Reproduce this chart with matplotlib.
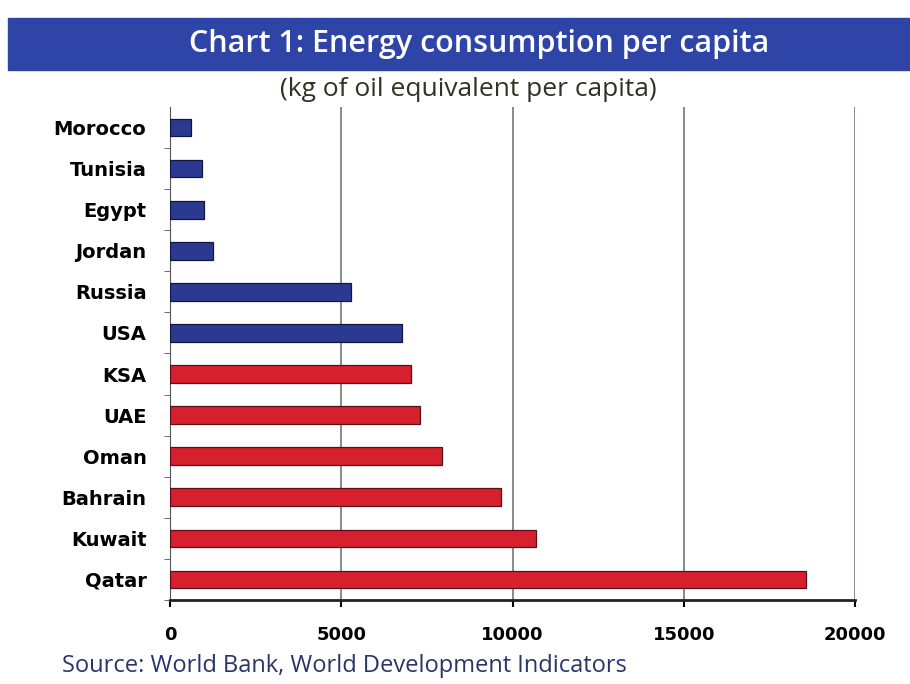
import matplotlib
matplotlib.use("Agg")
import matplotlib.pyplot as plt
from matplotlib.patches import Rectangle
import numpy as np

# data (kg of oil equivalent per capita)
COUNTRIES = ["Morocco", "Tunisia", "Egypt", "Jordan", "Russia", "USA",
             "KSA", "UAE", "Oman", "Bahrain", "Kuwait", "Qatar"]
VALUES = [600, 920, 990, 1250, 5290, 6780, 7040, 7300, 7950, 9650, 10690, 18560]
GCC = ["KSA", "UAE", "Oman", "Bahrain", "Kuwait", "Qatar"]
XTICKS = [0, 5000, 10000, 15000, 20000]

BLUE = "#2b3990"
RED = "#d7202e"
FONTS = ["Liberation Sans Narrow", "Open Sans", "DejaVu Sans"]

fig = plt.figure(figsize=(9.1, 6.84), dpi=100)
fig.patch.set_facecolor("white")

# title band
fig.patches.append(Rectangle((8 / 910, 1 - 70 / 684), 1, 52 / 684,
                             transform=fig.transFigure, color="#2e44a6", zorder=0))
fig.text(0.526, 1 - 44 / 684, "Chart 1: Energy consumption per capita",
         ha="center", va="center", color="white", fontsize=22, fontweight="semibold",
         family=FONTS)
fig.text(0.515, 1 - 89 / 684, "(kg of oil equivalent per capita)",
         ha="center", va="center", color="#2f3324", fontsize=19, family=FONTS)

ax = fig.add_axes([170 / 910, 1 - 600 / 684, 685 / 910, 493 / 684])
y = np.arange(len(COUNTRIES))
colors = [RED if c in GCC else BLUE for c in COUNTRIES]
edges = ["#5a0f1a" if c in GCC else "#141640" for c in COUNTRIES]
ax.barh(y, VALUES, height=0.43, color=colors, edgecolor=edges, linewidth=0.9, zorder=3)

ax.set_xlim(0, 20000)
ax.set_ylim(len(COUNTRIES) - 0.55, -0.5)
ax.set_xticks(XTICKS)
ax.set_xticklabels([str(v) for v in XTICKS], fontsize=13, fontweight="bold")
ax.set_yticks(y)
ax.set_yticklabels(COUNTRIES, fontsize=14, fontweight="bold")
ax.set_yticks(np.arange(len(COUNTRIES)) + 0.5, minor=True)
ax.tick_params(axis="y", which="major", length=0, pad=17)
ax.tick_params(axis="y", which="minor", length=4, color="#555555")
ax.tick_params(axis="x", length=5, width=1.5, pad=14)

ax.grid(axis="x", color="#6d7d72", linewidth=1.2, zorder=0)
for s in ["top", "right"]:
    ax.spines[s].set_visible(False)
ax.spines["left"].set_color("#555555")
ax.spines["bottom"].set_linewidth(2)
ax.spines["bottom"].set_color("#222222")

fig.text(62 / 910, 1 - 666 / 684, "Source: World Bank, World Development Indicators",
         ha="left", va="center", color="#2b3466", fontsize=17, family=FONTS)

fig.savefig("out.png", dpi=100)
